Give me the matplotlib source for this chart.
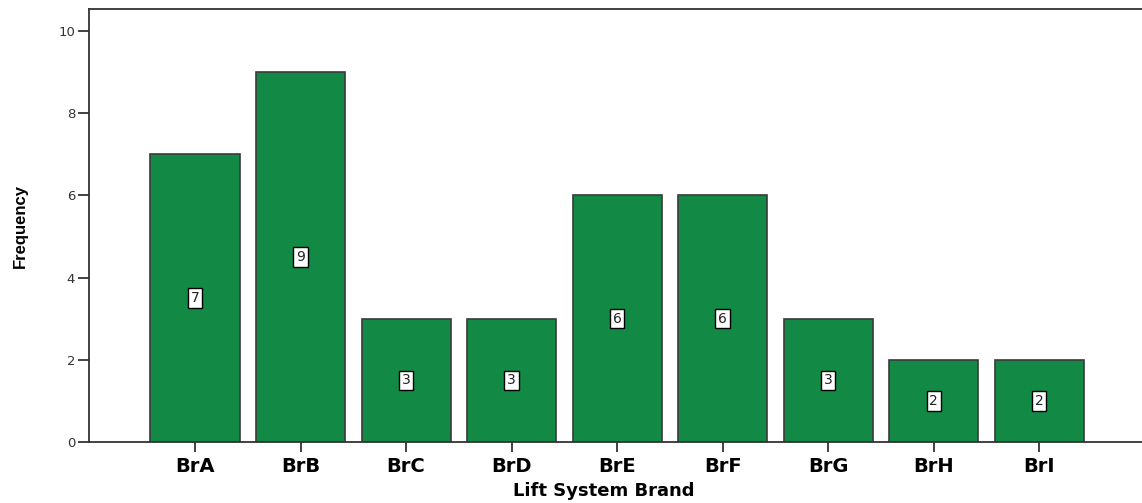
import matplotlib
matplotlib.use('Agg')
import matplotlib.pyplot as plt

BRANDS = ['BrA', 'BrB', 'BrC', 'BrD', 'BrE', 'BrF', 'BrG', 'BrH', 'BrI']
FREQ   = [7, 9, 3, 3, 6, 6, 3, 2, 2]
YTICKS = [0, 2, 4, 6, 8, 10]

BAR_COLOR  = '#128a45'
EDGE_COLOR = '#3a3a3a'

W, H = 1142, 503
fig = plt.figure(figsize=(W / 100, H / 100), dpi=100)
# axes runs past the right edge of the figure, like the original
ax = fig.add_axes([89 / W, 1 - 442 / H, (1150 - 89) / W, (442 - 9) / H])

x = range(len(BRANDS))
ax.bar(x, FREQ, width=0.845, color=BAR_COLOR, edgecolor=EDGE_COLOR, linewidth=1.2, zorder=2)

# value labels in white boxes, halfway up each bar
for i, v in enumerate(FREQ):
    ax.text(i, v / 2, str(v), ha='center', va='center', fontsize=10,
            family='DejaVu Sans', color='#222222', zorder=3,
            bbox=dict(boxstyle='square,pad=0.2', fc='white', ec='black', lw=1.0))

ax.set_xlim(-1.005, 9.05)
ax.set_ylim(0, 10.53)
ax.set_yticks(YTICKS)
ax.set_yticklabels([str(t) for t in YTICKS], fontsize=9.5, family='DejaVu Sans', color='#333333')
ax.set_xticks(list(x))
ax.set_xticklabels(BRANDS, fontsize=14, fontweight='bold', family='DejaVu Sans')

for s in ['left', 'bottom', 'top']:
    ax.spines[s].set_color('#333333')
    ax.spines[s].set_linewidth(1.3)
ax.spines['right'].set_visible(False)
ax.tick_params(axis='y', length=8, width=1.3, color='#333333', pad=2)
ax.tick_params(axis='x', length=7, width=1.3, color='#333333', pad=4)

fig.text(604 / W, 1 - 491 / H, 'Lift System Brand', ha='center', va='center',
         fontsize=13, fontweight='bold', family='DejaVu Sans')
fig.text(20 / W, 1 - 226 / H, 'Frequency', ha='center', va='center', rotation=90,
         fontsize=12, fontweight='bold', family=['Liberation Sans Narrow', 'Liberation Sans'])

fig.savefig('out.png', dpi=100)
